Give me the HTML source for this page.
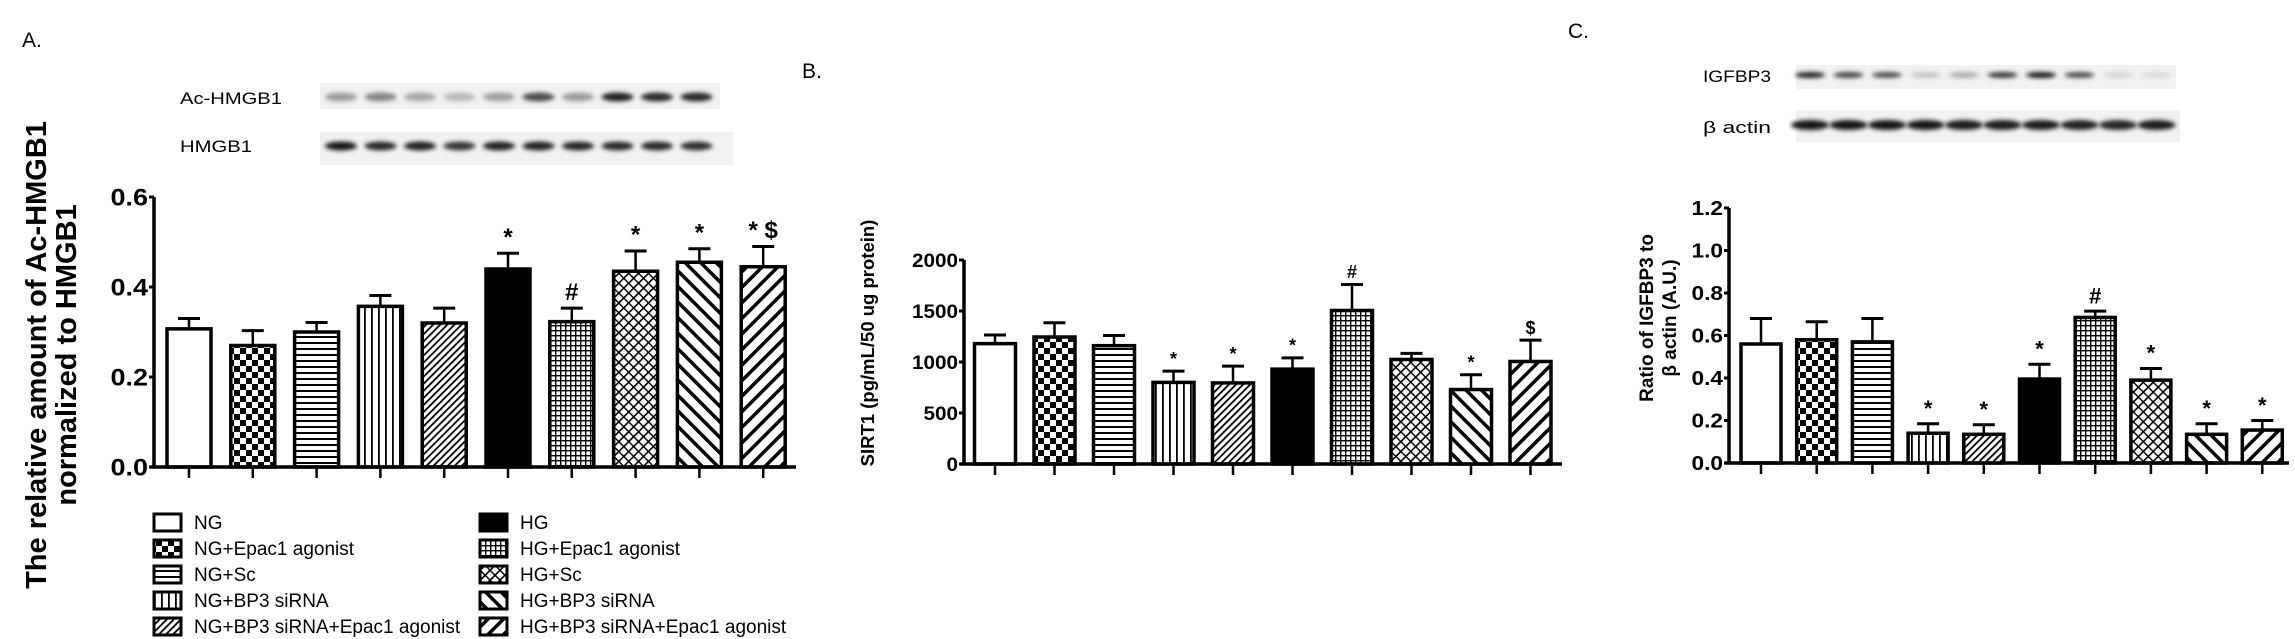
<!DOCTYPE html>
<html><head><meta charset="utf-8"><style>
html,body{margin:0;padding:0;background:#fff;}
svg{display:block;font-family:"Liberation Sans",sans-serif;}
.tk{font-family:"Liberation Sans Narrow","Liberation Sans",sans-serif;font-weight:bold;}
</style></head><body>
<svg id="fig" width="2295" height="639" viewBox="0 0 2295 639" xmlns="http://www.w3.org/2000/svg">
<defs>
<filter id="blur" x="-50%" y="-100%" width="200%" height="300%"><feGaussianBlur stdDeviation="2.2"/></filter>
<pattern id="p0" width="6" height="6" patternUnits="userSpaceOnUse"><rect width="6" height="6" fill="#fff"/></pattern>
<pattern id="p1" width="12" height="12" patternUnits="userSpaceOnUse"><rect width="12" height="12" fill="#fff"/><rect width="6" height="6" fill="#000"/><rect x="6" y="6" width="6" height="6" fill="#000"/></pattern>
<pattern id="p2" width="6" height="6" patternUnits="userSpaceOnUse"><rect width="6" height="6" fill="#fff"/><rect y="0" width="6" height="2" fill="#000"/></pattern>
<pattern id="p3" width="7" height="7" patternUnits="userSpaceOnUse"><rect width="7" height="7" fill="#fff"/><rect x="0" width="1.8" height="7" fill="#000"/></pattern>
<pattern id="p4" width="5" height="5" patternUnits="userSpaceOnUse" patternTransform="rotate(45)"><rect width="5" height="5" fill="#fff"/><rect width="1.8" height="5" fill="#000"/></pattern>
<pattern id="p5" width="6" height="6" patternUnits="userSpaceOnUse"><rect width="6" height="6" fill="#000"/></pattern>
<pattern id="p6" width="5" height="5" patternUnits="userSpaceOnUse"><rect width="5" height="5" fill="#fff"/><rect width="5" height="1.4" fill="#000"/><rect width="1.4" height="5" fill="#000"/></pattern>
<pattern id="p7" width="7" height="7" patternUnits="userSpaceOnUse" patternTransform="rotate(45)"><rect width="7" height="7" fill="#fff"/><rect width="1.6" height="7" fill="#000"/><rect y="0" width="7" height="1.4" fill="#000"/></pattern>
<pattern id="p8" width="11" height="11" patternUnits="userSpaceOnUse" patternTransform="rotate(-45)"><rect width="11" height="11" fill="#fff"/><rect width="3.5" height="11" fill="#000"/></pattern>
<pattern id="p9" width="11" height="11" patternUnits="userSpaceOnUse" patternTransform="rotate(45)"><rect width="11" height="11" fill="#fff"/><rect width="3.5" height="11" fill="#000"/></pattern>
</defs>

<text x="22" y="47" font-size="21">A.</text>
<text x="802" y="78" font-size="21">B.</text>
<text x="1568" y="38" font-size="21">C.</text>

<g id="blots">
<text x="180" y="104" font-size="17" class="tk" style="font-weight:normal" textLength="102" lengthAdjust="spacingAndGlyphs">Ac-HMGB1</text>
<text x="180" y="152" font-size="17" class="tk" style="font-weight:normal" textLength="72" lengthAdjust="spacingAndGlyphs">HMGB1</text>
<text x="1703" y="82" font-size="17" class="tk" style="font-weight:normal" textLength="68" lengthAdjust="spacingAndGlyphs">IGFBP3</text>
<text x="1703" y="133" font-size="17" class="tk" style="font-weight:normal" textLength="68" lengthAdjust="spacingAndGlyphs">β actin</text>
</g>

<text transform="translate(46,355) rotate(-90)" text-anchor="middle" font-size="29" font-weight="bold">The relative amount of  Ac-HMGB1</text>
<text transform="translate(76,355) rotate(-90)" text-anchor="middle" font-size="29" font-weight="bold">normalized to HMGB1</text>
<text transform="translate(874,343) rotate(-90)" text-anchor="middle" font-size="18.5" font-weight="bold">SIRT1  (pg/mL/50 ug protein)</text>
<text transform="translate(1653,318) rotate(-90)" text-anchor="middle" font-size="19" font-weight="bold">Ratio of IGFBP3 to</text>
<text transform="translate(1676,318) rotate(-90)" text-anchor="middle" font-size="19" font-weight="bold">β actin  (A.U.)</text>

<g id="legend"></g>
</svg>
<script>
const categories = ["NG","NG+Epac1 agonist","NG+Sc","NG+BP3 siRNA","NG+BP3 siRNA+Epac1 agonist","HG","HG+Epac1 agonist","HG+Sc","HG+BP3 siRNA","HG+BP3 siRNA+Epac1 agonist"];
const valuesA = [0.307,0.27,0.30,0.357,0.32,0.44,0.323,0.435,0.455,0.445];
const errorsA = [0.023,0.033,0.021,0.024,0.033,0.035,0.03,0.045,0.03,0.045];
const marksA = ["","","","","","*","#","*","*","* $"];
const ticksA = [0,0.2,0.4,0.6];
const tickLabelsA = ["0.0","0.2","0.4","0.6"];
const valuesB = [1180,1245,1160,800,795,930,1505,1025,730,1005];
const errorsB = [85,140,100,110,165,110,255,60,145,210];
const marksB = ["","","","*","*","*","#","","*","$"];
const ticksB = [0,500,1000,1500,2000];
const tickLabelsB = ["0","500","1000","1500","2000"];
const valuesC = [0.56,0.58,0.57,0.14,0.135,0.395,0.685,0.39,0.135,0.155];
const errorsC = [0.12,0.085,0.11,0.045,0.045,0.07,0.03,0.055,0.05,0.045];
const marksC = ["","","","*","*","*","#","*","*","*"];
const ticksC = [0,0.2,0.4,0.6,0.8,1.0,1.2];
const tickLabelsC = ["0.0","0.2","0.4","0.6","0.8","1.0","1.2"];
const acHmgb1 = [0.35,0.45,0.3,0.22,0.33,0.7,0.35,0.9,0.85,0.85];
const hmgb1 = [0.95,0.85,0.9,0.8,0.9,0.9,0.88,0.85,0.85,0.82];
const igfbp3 = [0.9,0.75,0.7,0.18,0.28,0.8,0.95,0.7,0.1,0.08];
const bactin = [0.95,0.95,0.95,0.95,0.92,0.92,0.92,0.9,0.88,0.92];

const NS="http://www.w3.org/2000/svg";
const svg=document.getElementById('fig');
function mk(tag,attrs,parent){const e=document.createElementNS(NS,tag);for(const k in attrs)e.setAttribute(k,attrs[k]);(parent||svg).appendChild(e);return e;}

function chart(cfg){
  const g=mk('g',{});
  
  
  const y=v=>cfg.base-(v/cfg.max)*(cfg.base-cfg.top);
  const x=i=>cfg.c0+i*cfg.step;
  cfg.vals.forEach((v,i)=>{
    const cx=x(i), yt=y(v), ye=y(v+cfg.errs[i]);
    const eb=mk('line',{x1:cx,x2:cx,y1:yt,y2:ye,stroke:'#000','stroke-width':2.5},g);
    
    
    const cap=mk('line',{x1:cx-11,x2:cx+11,y1:ye,y2:ye,stroke:'#000','stroke-width':3},g);
    
    
    const r=mk('rect',{x:cx-cfg.bw/2,y:yt,width:cfg.bw,height:cfg.base-yt,fill:'url(#p'+i+')',stroke:'#000','stroke-width':3.5},g);
    
    
    if(cfg.marks[i]){
      const t=mk('text',{x:cx,y:ye-cfg.ms*0.35,'text-anchor':'middle','font-size':cfg.ms,'font-weight':'bold'},g);
      t.textContent=cfg.marks[i];
      
      
    }
    const tk=mk('line',{x1:cx,x2:cx,y1:cfg.base,y2:cfg.base+11,stroke:'#000','stroke-width':2.5},g);
    
    
  });
  const ax=mk('line',{x1:cfg.ax,x2:cfg.ax,y1:cfg.top,y2:cfg.base+1.5,stroke:'#000','stroke-width':3.5},g);
  
  
  const xa=mk('line',{x1:cfg.ax-4,x2:cfg.xend,y1:cfg.base,y2:cfg.base,stroke:'#000','stroke-width':3.5},g);
  
  
  cfg.ticks.forEach((t,i)=>{
    const ty=y(t);
    const l=mk('line',{x1:cfg.ax-5,x2:cfg.ax,y1:ty,y2:ty,stroke:'#000','stroke-width':3},g);
    
    
    const lab=cfg.labels[i];
    const tx=mk('text',{x:cfg.ax-6,y:ty+cfg.fs*0.36,'text-anchor':'end','font-size':cfg.fs,'class':'tk',textLength:lab.length*cfg.cw,lengthAdjust:'spacingAndGlyphs'},g);
    tx.textContent=lab;
    
    
  });
}
chart({name:'chart-a-ac-hmgb1',vals:valuesA,errs:errorsA,marks:marksA,ticks:ticksA,labels:tickLabelsA,max:0.6,base:467,top:197,ax:154,xend:796,c0:189,step:63.8,bw:44,ms:24,fs:24,cw:12.5});
chart({name:'chart-b-sirt1',vals:valuesB,errs:errorsB,marks:marksB,ticks:ticksB,labels:tickLabelsB,max:2000,base:464,top:260,ax:964,xend:1562,c0:995,step:59.5,bw:41,ms:18,fs:19,cw:11.5});
chart({name:'chart-c-igfbp3',vals:valuesC,errs:errorsC,marks:marksC,ticks:ticksC,labels:tickLabelsC,max:1.2,base:463,top:208,ax:1729,xend:2289,c0:1761,step:55.7,bw:40,ms:22,fs:20,cw:10.5});

function blot(name,x0,y0,w,h,cy,lanes,bw,bh,ints){
  const g=mk('g',{});
  
  
  const bg=mk('rect',{x:x0,y:y0,width:w,height:h,fill:'#f1f1f1'},g);
  
  
  ints.forEach((v,i)=>{
    const c=Math.round(235-225*v);
    const e=mk('ellipse',{cx:lanes[0]+i*lanes[1],cy:cy,rx:bw/2,ry:bh/2,fill:'rgb('+c+','+c+','+c+')',filter:'url(#blur)'},g);
    
    
  });
}
blot('blot-ac-hmgb1',320,83,400,26,97,[341,39.5],32,9,acHmgb1);
blot('blot-hmgb1',320,132,413,33,146,[341,39.5],32,9,hmgb1);
blot('blot-igfbp3',1796,65,380,24,75,[1810,38.5],30,6,igfbp3);
blot('blot-beta-actin',1796,110,384,32,125,[1810,38.5],38,10,bactin);

const legend=document.getElementById('legend');
categories.forEach((c,i)=>{
  const col=Math.floor(i/5), row=i%5;
  const lx=col?480:154, ly=514+row*26;
  const r=mk('rect',{x:lx,y:ly,width:27,height:17,fill:'url(#p'+i+')',stroke:'#000','stroke-width':3},legend);
  
  
  const t=mk('text',{x:lx+40,y:ly+15,'font-size':19},legend);
  t.textContent=c;
  
  
});
</script>
</body></html>
